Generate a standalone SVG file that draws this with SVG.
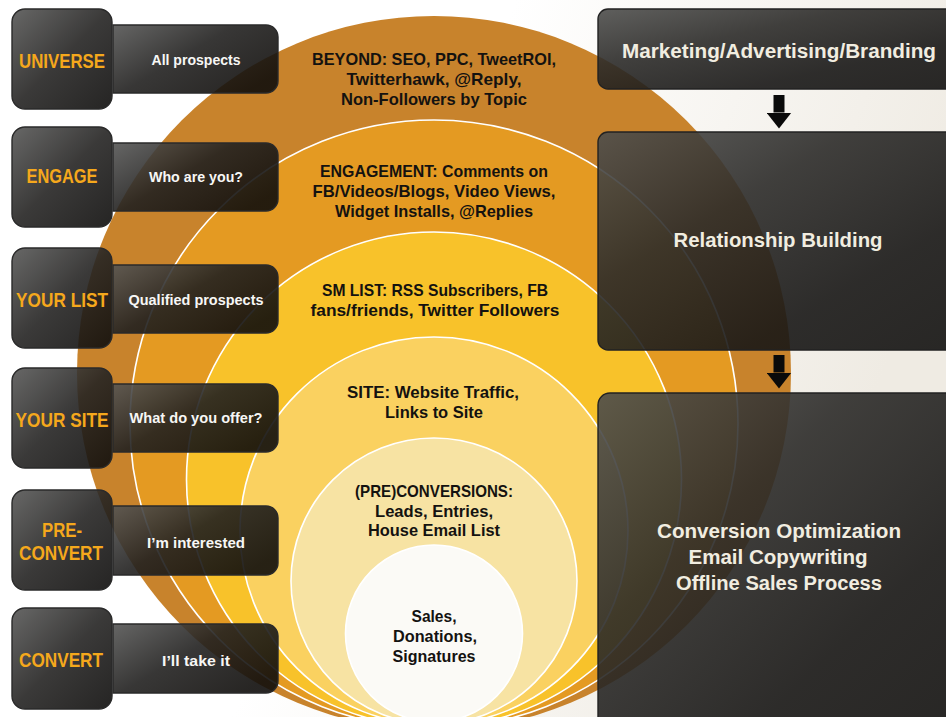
<svg xmlns="http://www.w3.org/2000/svg" width="946" height="717" viewBox="0 0 946 717">
  <defs>
    <linearGradient id="gBg" x1="0" y1="0" x2="1" y2="0.3">
      <stop offset="0.5" stop-color="#ffffff"/>
      <stop offset="1" stop-color="#efebe3"/>
    </linearGradient>
    <linearGradient id="gSquare" x1="0" y1="0" x2="1" y2="1">
      <stop offset="0" stop-color="#575756"/>
      <stop offset="0.5" stop-color="#252423"/>
      <stop offset="1" stop-color="#0e0d0c"/>
    </linearGradient>
    <linearGradient id="gLabel" x1="0" y1="0" x2="1" y2="0.7">
      <stop offset="0" stop-color="#555554"/>
      <stop offset="0.5" stop-color="#222120"/>
      <stop offset="1" stop-color="#100e0c"/>
    </linearGradient>
    <linearGradient id="gRight" x1="0" y1="0" x2="1" y2="1">
      <stop offset="0" stop-color="#4e4e4c"/>
      <stop offset="0.35" stop-color="#2c2b29"/>
      <stop offset="0.7" stop-color="#181716"/>
      <stop offset="1" stop-color="#121110"/>
    </linearGradient>
    <marker id="arrowHead" viewBox="0 0 16 25" markerWidth="16" markerHeight="25" refX="0" refY="12.5" orient="auto" markerUnits="userSpaceOnUse">
      <path d="M0,0 L16,12.5 L0,25 Z" fill="#0a0a0a"/>
    </marker>
    <style>
      .ring { stroke: #ffffff; stroke-width: 1.6; }
      .sq { fill: url(#gSquare); fill-opacity: 0.9; stroke: #2a2a2a; stroke-width: 1.4; }
      .lbl { fill: url(#gLabel); fill-opacity: 0.9; stroke: #2a2a2a; stroke-width: 1.4; }
      .rbox { fill: url(#gRight); fill-opacity: 0.9; stroke: #222222; stroke-width: 1.4; }
      .sqt { font-family: "Liberation Sans", Arial, sans-serif; font-weight: bold; font-size: 20px; fill: #f5a81c; text-anchor: middle; }
      .lblt { font-family: "Liberation Sans", Arial, sans-serif; font-weight: bold; font-size: 15px; fill: #f7f7f5; text-anchor: middle; }
      .ct { font-family: "Liberation Sans", Arial, sans-serif; font-weight: bold; font-size: 17px; fill: #141210; text-anchor: middle; }
      .rt { font-family: "Liberation Sans", Arial, sans-serif; font-weight: bold; font-size: 20px; fill: #f1ede0; text-anchor: middle; }
      .arr { stroke: #0a0a0a; stroke-width: 11; fill: none; }
    </style>
  </defs>

  <rect x="0" y="0" width="946" height="717" fill="url(#gBg)"/>

  <g id="circles">
    <circle cx="434" cy="373" r="357" fill="#c8832c"/>
    <circle class="ring" cx="434" cy="424" r="304" fill="#e49a22"/>
    <circle class="ring" cx="434" cy="479.5" r="247.5" fill="#f8c22a"/>
    <circle class="ring" cx="434" cy="531" r="194" fill="#fad160"/>
    <circle class="ring" cx="434" cy="581" r="143" fill="#f7e3a3"/>
    <circle class="ring" cx="434" cy="633.5" r="88.5" fill="#fbfaf6"/>
  </g>

  <g id="ring-labels">
    <text class="ct" x="434" y="65" textLength="244" lengthAdjust="spacingAndGlyphs">BEYOND: SEO, PPC, TweetROI,</text>
    <text class="ct" x="434" y="85" textLength="175" lengthAdjust="spacingAndGlyphs">Twitterhawk, @Reply,</text>
    <text class="ct" x="434" y="105" textLength="186" lengthAdjust="spacingAndGlyphs">Non-Followers by Topic</text>

    <text class="ct" x="434" y="177" textLength="228" lengthAdjust="spacingAndGlyphs">ENGAGEMENT: Comments on</text>
    <text class="ct" x="434" y="197" textLength="243" lengthAdjust="spacingAndGlyphs">FB/Videos/Blogs, Video Views,</text>
    <text class="ct" x="434" y="217" textLength="198" lengthAdjust="spacingAndGlyphs">Widget Installs, @Replies</text>

    <text class="ct" x="435" y="296" textLength="226" lengthAdjust="spacingAndGlyphs">SM LIST: RSS Subscribers, FB</text>
    <text class="ct" x="435" y="316" textLength="249" lengthAdjust="spacingAndGlyphs">fans/friends, Twitter Followers</text>

    <text class="ct" x="433" y="398" textLength="172" lengthAdjust="spacingAndGlyphs">SITE: Website Traffic,</text>
    <text class="ct" x="434" y="418" textLength="98" lengthAdjust="spacingAndGlyphs">Links to Site</text>

    <text class="ct" x="434" y="497" textLength="158" lengthAdjust="spacingAndGlyphs">(PRE)CONVERSIONS:</text>
    <text class="ct" x="434" y="517" textLength="118" lengthAdjust="spacingAndGlyphs">Leads, Entries,</text>
    <text class="ct" x="434" y="536" textLength="132" lengthAdjust="spacingAndGlyphs">House Email List</text>

    <text class="ct" x="434" y="622" textLength="45" lengthAdjust="spacingAndGlyphs">Sales,</text>
    <text class="ct" x="435" y="642" textLength="84" lengthAdjust="spacingAndGlyphs">Donations,</text>
    <text class="ct" x="434" y="662" textLength="83" lengthAdjust="spacingAndGlyphs">Signatures</text>
  </g>

  <g id="stage-universe">
    <path class="lbl" d="M113,25 H266 A12,12 0 0 1 278,37 V81 A12,12 0 0 1 266,93 H113 Z"/>
    <rect class="sq" x="12" y="9" width="100" height="100" rx="13"/>
    <text class="sqt" x="62" y="68" textLength="86" lengthAdjust="spacingAndGlyphs">UNIVERSE</text>
    <text class="lblt" x="196" y="65" textLength="89" lengthAdjust="spacingAndGlyphs">All prospects</text>
  </g>

  <g id="stage-engage">
    <path class="lbl" d="M113,143 H266 A12,12 0 0 1 278,155 V199 A12,12 0 0 1 266,211 H113 Z"/>
    <rect class="sq" x="12" y="127" width="100" height="100" rx="13"/>
    <text class="sqt" x="62" y="183" textLength="71" lengthAdjust="spacingAndGlyphs">ENGAGE</text>
    <text class="lblt" x="196" y="182" textLength="94" lengthAdjust="spacingAndGlyphs">Who are you?</text>
  </g>

  <g id="stage-your-list">
    <path class="lbl" d="M113,265 H266 A12,12 0 0 1 278,277 V321 A12,12 0 0 1 266,333 H113 Z"/>
    <rect class="sq" x="12" y="248" width="100" height="100" rx="13"/>
    <text class="sqt" x="62" y="307" textLength="92" lengthAdjust="spacingAndGlyphs">YOUR LIST</text>
    <text class="lblt" x="196" y="305" textLength="135" lengthAdjust="spacingAndGlyphs">Qualified prospects</text>
  </g>

  <g id="stage-your-site">
    <path class="lbl" d="M113,384 H266 A12,12 0 0 1 278,396 V440 A12,12 0 0 1 266,452 H113 Z"/>
    <rect class="sq" x="12" y="368" width="100" height="100" rx="13"/>
    <text class="sqt" x="62" y="427" textLength="93" lengthAdjust="spacingAndGlyphs">YOUR SITE</text>
    <text class="lblt" x="196" y="423" textLength="133" lengthAdjust="spacingAndGlyphs">What do you offer?</text>
  </g>

  <g id="stage-pre-convert">
    <path class="lbl" d="M113,506 H266 A12,12 0 0 1 278,518 V563 A12,12 0 0 1 266,575 H113 Z"/>
    <rect class="sq" x="12" y="490" width="100" height="100" rx="13"/>
    <text class="sqt" x="62" y="537" textLength="40" lengthAdjust="spacingAndGlyphs">PRE-</text>
    <text class="sqt" x="61" y="560" textLength="84" lengthAdjust="spacingAndGlyphs">CONVERT</text>
    <text class="lblt" x="196" y="548" textLength="98" lengthAdjust="spacingAndGlyphs">I’m interested</text>
  </g>

  <g id="stage-convert">
    <path class="lbl" d="M113,624 H266 A12,12 0 0 1 278,636 V681 A12,12 0 0 1 266,693 H113 Z"/>
    <rect class="sq" x="12" y="608" width="100" height="101" rx="13"/>
    <text class="sqt" x="61" y="667" textLength="84" lengthAdjust="spacingAndGlyphs">CONVERT</text>
    <text class="lblt" x="196" y="666" textLength="68" lengthAdjust="spacingAndGlyphs">I’ll take it</text>
  </g>

  <g id="box-marketing">
    <rect class="rbox" x="598" y="9" width="362" height="80" rx="10"/>
    <text class="rt" x="779" y="58" textLength="314" lengthAdjust="spacingAndGlyphs">Marketing/Advertising/Branding</text>
  </g>

  <g id="box-relationship">
    <rect class="rbox" x="598" y="132" width="362" height="218" rx="10"/>
    <text class="rt" x="778" y="247" textLength="209" lengthAdjust="spacingAndGlyphs">Relationship Building</text>
  </g>

  <g id="box-conversion">
    <rect class="rbox" x="598" y="393" width="362" height="345" rx="12"/>
    <text class="rt" x="779" y="538" textLength="244" lengthAdjust="spacingAndGlyphs">Conversion Optimization</text>
    <text class="rt" x="778" y="564" textLength="179" lengthAdjust="spacingAndGlyphs">Email Copywriting</text>
    <text class="rt" x="779" y="590" textLength="206" lengthAdjust="spacingAndGlyphs">Offline Sales Process</text>
  </g>

  <g id="connectors">
    <line class="arr" x1="779" y1="95" x2="779" y2="112.5" marker-end="url(#arrowHead)"/>
    <line class="arr" x1="779" y1="355" x2="779" y2="372.5" marker-end="url(#arrowHead)"/>
  </g>
</svg>
